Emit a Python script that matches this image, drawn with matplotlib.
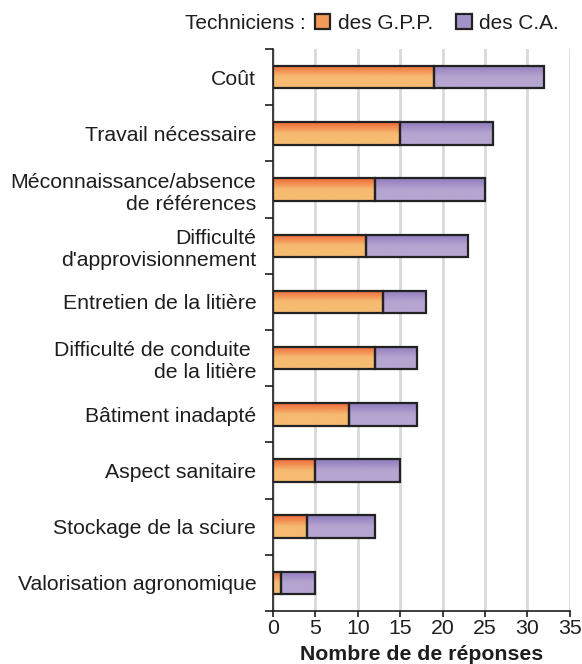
import numpy as np
import matplotlib
matplotlib.use("Agg")
import matplotlib.pyplot as plt
from matplotlib.patches import Patch

plt.rcParams["font.family"] = ["Liberation Sans", "DejaVu Sans"]

categories = [
    "Coût",
    "Travail nécessaire",
    "Méconnaissance/absence\nde références",
    "Difficulté\nd'approvisionnement",
    "Entretien de la litière",
    "Difficulté de conduite \nde la litière",
    "Bâtiment inadapté",
    "Aspect sanitaire",
    "Stockage de la sciure",
    "Valorisation agronomique",
]
gpp = [19, 15, 12, 11, 13, 12, 9, 5, 4, 1]
ca = [13, 11, 13, 12, 5, 5, 8, 10, 8, 4]
xticks = [0, 5, 10, 15, 20, 25, 30, 35]

orange_top, orange_bot = "#ee6836", "#f7bb72"
purple_top, purple_bot = "#8f7bbd", "#b5a5d0"
txt = "#1e1e1e"

fig = plt.figure(figsize=(5.82, 6.64), dpi=100)
ax = fig.add_axes([0.469, 0.080, 0.510, 0.846])

y = np.arange(len(categories))


def gradient_bars(bars, c_top, c_bot):
    cmap = matplotlib.colors.LinearSegmentedColormap.from_list("g", [c_top, c_bot, c_bot])
    grad = np.linspace(0, 1, 64).reshape(-1, 1)
    for b in bars:
        x0, y0 = b.get_x(), b.get_y()
        w, h = b.get_width(), b.get_height()
        # y axis is inverted: y0 is the visual top of the bar
        im = ax.imshow(grad, cmap=cmap, aspect="auto", origin="upper",
                       extent=[x0, x0 + w, y0 + h, y0], zorder=2)
        im.set_clip_path(b)


b1 = ax.barh(y, gpp, height=0.4, facecolor="none", edgecolor="#222222",
             linewidth=1.6, zorder=3)
b2 = ax.barh(y, ca, left=gpp, height=0.4, facecolor="none", edgecolor="#222222",
             linewidth=1.6, zorder=3)
gradient_bars(b1, orange_top, orange_bot)
gradient_bars(b2, purple_top, purple_bot)

ax.set_ylim(len(categories) - 0.5, -0.5)
ax.set_xlim(0, 35)
ax.set_xticks(xticks)
ax.tick_params(axis="x", labelsize=15.3, length=4, width=1.2, colors=txt, pad=2)
ax.set_yticks(y)
ax.set_yticklabels(categories, fontsize=15.3, color=txt, linespacing=1.2)
ax.tick_params(axis="y", length=0, pad=12)
ax.set_yticks(np.arange(-0.5, len(categories) + 0.5, 1), minor=True)
ax.tick_params(axis="y", which="minor", length=6, width=1.2, colors=txt)

ax.grid(axis="x", color="#d9d9d9", linewidth=2)
ax.set_axisbelow(True)
for s in ["top", "right"]:
    ax.spines[s].set_visible(False)
for s in ["left", "bottom"]:
    ax.spines[s].set_linewidth(1.2)
    ax.spines[s].set_color(txt)

ax.set_xlabel("Nombre de de réponses", fontsize=15.3, fontweight="bold",
              color=txt, labelpad=5)

fig.text(0.318, 0.965, "Techniciens :", fontsize=15, color=txt,
         va="center", ha="left")
handles = [Patch(facecolor="#f39a58", edgecolor="#222222", linewidth=1.6),
           Patch(facecolor="#a392c8", edgecolor="#222222", linewidth=1.6)]
fig.legend(handles, ["des G.P.P.", "des C.A."], loc="center left",
           bbox_to_anchor=(0.541, 0.965), ncol=2, frameon=False, fontsize=15,
           handlelength=0.75, handleheight=0.75, handletextpad=0.35,
           columnspacing=1.1, borderaxespad=0, borderpad=0,
           labelcolor=txt)

fig.savefig("out.png", dpi=100)
